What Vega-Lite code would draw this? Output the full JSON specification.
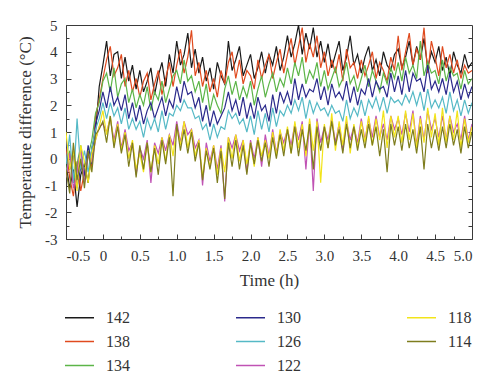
{
"$schema": "https://vega.github.io/schema/vega-lite/v6.json",
"width": 406, "height": 214,
"autosize": "none",
"padding": {"left": 66, "top": 25, "right": 28, "bottom": 146},
"config": {
  "view": {"stroke": "#3a3a3a", "strokeWidth": 1},
  "font": "Liberation Serif, Times New Roman, DejaVu Serif, serif",
  "axis": {"domain": false, "grid": false, "labelFont": "Liberation Serif, Times New Roman, DejaVu Serif, serif", "labelFontSize": 15, "labelColor": "#333", "titleFont": "Liberation Serif, Times New Roman, DejaVu Serif, serif", "titleFontSize": 17, "titleFontWeight": "normal", "titleColor": "#333", "tickColor": "#3a3a3a", "tickWidth": 1}
},
"data": {"values": [
{"t":-0.5,"s":142,"v":-0.2},{"t":-0.45,"s":142,"v":-1.1},{"t":-0.4,"s":142,"v":-0.4},{"t":-0.35,"s":142,"v":-1.8},{"t":-0.3,"s":142,"v":-0.6},{"t":-0.25,"s":142,"v":-0.2},{"t":-0.2,"s":142,"v":-0.9},{"t":-0.15,"s":142,"v":0.4},{"t":-0.1,"s":142,"v":1.0},{"t":-0.05,"s":142,"v":2.7},
{"t":0,"s":142,"v":3.5},{"t":0.05,"s":142,"v":4.4},{"t":0.1,"s":142,"v":3.1},{"t":0.15,"s":142,"v":3.9},{"t":0.2,"s":142,"v":4.0},{"t":0.25,"s":142,"v":3.0},{"t":0.3,"s":142,"v":3.8},{"t":0.35,"s":142,"v":2.9},{"t":0.4,"s":142,"v":3.5},{"t":0.45,"s":142,"v":2.6},
{"t":0.5,"s":142,"v":3.3},{"t":0.55,"s":142,"v":2.5},{"t":0.6,"s":142,"v":2.9},{"t":0.65,"s":142,"v":3.4},{"t":0.7,"s":142,"v":2.4},{"t":0.75,"s":142,"v":3.1},{"t":0.8,"s":142,"v":3.6},{"t":0.85,"s":142,"v":2.7},{"t":0.9,"s":142,"v":3.9},{"t":0.95,"s":142,"v":3.2},
{"t":1,"s":142,"v":4.4},{"t":1.05,"s":142,"v":3.5},{"t":1.1,"s":142,"v":3.9},{"t":1.15,"s":142,"v":4.7},{"t":1.2,"s":142,"v":3.4},{"t":1.25,"s":142,"v":4.1},{"t":1.3,"s":142,"v":3.2},{"t":1.35,"s":142,"v":3.8},{"t":1.4,"s":142,"v":2.9},{"t":1.45,"s":142,"v":3.4},
{"t":1.5,"s":142,"v":2.6},{"t":1.55,"s":142,"v":3.6},{"t":1.6,"s":142,"v":3.1},{"t":1.65,"s":142,"v":2.8},{"t":1.7,"s":142,"v":4.4},{"t":1.75,"s":142,"v":3.3},{"t":1.8,"s":142,"v":3.7},{"t":1.85,"s":142,"v":4.2},{"t":1.9,"s":142,"v":3.1},{"t":1.95,"s":142,"v":3.5},
{"t":2,"s":142,"v":3.9},{"t":2.05,"s":142,"v":3.0},{"t":2.1,"s":142,"v":3.4},{"t":2.15,"s":142,"v":4.0},{"t":2.2,"s":142,"v":3.2},{"t":2.25,"s":142,"v":3.9},{"t":2.3,"s":142,"v":3.5},{"t":2.35,"s":142,"v":4.2},{"t":2.4,"s":142,"v":3.3},{"t":2.45,"s":142,"v":3.8},
{"t":2.5,"s":142,"v":4.6},{"t":2.55,"s":142,"v":3.8},{"t":2.6,"s":142,"v":4.3},{"t":2.65,"s":142,"v":5.0},{"t":2.7,"s":142,"v":3.9},{"t":2.75,"s":142,"v":4.7},{"t":2.8,"s":142,"v":4.1},{"t":2.85,"s":142,"v":4.9},{"t":2.9,"s":142,"v":3.8},{"t":2.95,"s":142,"v":4.4},
{"t":3,"s":142,"v":3.6},{"t":3.05,"s":142,"v":4.3},{"t":3.1,"s":142,"v":3.4},{"t":3.15,"s":142,"v":3.9},{"t":3.2,"s":142,"v":4.4},{"t":3.25,"s":142,"v":3.3},{"t":3.3,"s":142,"v":3.8},{"t":3.35,"s":142,"v":4.6},{"t":3.4,"s":142,"v":3.5},{"t":3.45,"s":142,"v":3.9},
{"t":3.5,"s":142,"v":3.2},{"t":3.55,"s":142,"v":3.8},{"t":3.6,"s":142,"v":4.2},{"t":3.65,"s":142,"v":3.3},{"t":3.7,"s":142,"v":3.7},{"t":3.75,"s":142,"v":3.1},{"t":3.8,"s":142,"v":4.0},{"t":3.85,"s":142,"v":3.5},{"t":3.9,"s":142,"v":3.3},{"t":3.95,"s":142,"v":3.9},
{"t":4,"s":142,"v":4.1},{"t":4.05,"s":142,"v":3.4},{"t":4.1,"s":142,"v":3.8},{"t":4.15,"s":142,"v":4.4},{"t":4.2,"s":142,"v":3.5},{"t":4.25,"s":142,"v":4.2},{"t":4.3,"s":142,"v":3.7},{"t":4.35,"s":142,"v":4.5},{"t":4.4,"s":142,"v":3.4},{"t":4.45,"s":142,"v":4.0},
{"t":4.5,"s":142,"v":3.6},{"t":4.55,"s":142,"v":4.2},{"t":4.6,"s":142,"v":3.3},{"t":4.65,"s":142,"v":3.8},{"t":4.7,"s":142,"v":3.1},{"t":4.75,"s":142,"v":4.0},{"t":4.8,"s":142,"v":3.5},{"t":4.85,"s":142,"v":3.2},{"t":4.9,"s":142,"v":3.9},{"t":4.95,"s":142,"v":3.4},{"t":5,"s":142,"v":3.6},

{"t":-0.5,"s":138,"v":0.4},{"t":-0.45,"s":138,"v":-0.7},{"t":-0.4,"s":138,"v":-1.4},{"t":-0.35,"s":138,"v":-0.1},{"t":-0.3,"s":138,"v":-1.2},{"t":-0.25,"s":138,"v":-0.5},{"t":-0.2,"s":138,"v":0.2},{"t":-0.15,"s":138,"v":-0.3},{"t":-0.1,"s":138,"v":1.6},{"t":-0.05,"s":138,"v":2.2},
{"t":0,"s":138,"v":3.0},{"t":0.05,"s":138,"v":3.7},{"t":0.1,"s":138,"v":4.2},{"t":0.15,"s":138,"v":3.1},{"t":0.2,"s":138,"v":3.4},{"t":0.25,"s":138,"v":3.9},{"t":0.3,"s":138,"v":2.7},{"t":0.35,"s":138,"v":3.3},{"t":0.4,"s":138,"v":2.5},{"t":0.45,"s":138,"v":3.0},
{"t":0.5,"s":138,"v":2.3},{"t":0.55,"s":138,"v":2.9},{"t":0.6,"s":138,"v":3.2},{"t":0.65,"s":138,"v":2.2},{"t":0.7,"s":138,"v":2.8},{"t":0.75,"s":138,"v":3.3},{"t":0.8,"s":138,"v":2.4},{"t":0.85,"s":138,"v":3.0},{"t":0.9,"s":138,"v":3.6},{"t":0.95,"s":138,"v":2.7},
{"t":1,"s":138,"v":3.5},{"t":1.05,"s":138,"v":4.1},{"t":1.1,"s":138,"v":3.2},{"t":1.15,"s":138,"v":3.8},{"t":1.2,"s":138,"v":4.8},{"t":1.25,"s":138,"v":3.1},{"t":1.3,"s":138,"v":3.6},{"t":1.35,"s":138,"v":2.7},{"t":1.4,"s":138,"v":3.3},{"t":1.45,"s":138,"v":2.5},
{"t":1.5,"s":138,"v":3.0},{"t":1.55,"s":138,"v":2.3},{"t":1.6,"s":138,"v":3.3},{"t":1.65,"s":138,"v":2.8},{"t":1.7,"s":138,"v":3.6},{"t":1.75,"s":138,"v":4.0},{"t":1.8,"s":138,"v":3.0},{"t":1.85,"s":138,"v":3.7},{"t":1.9,"s":138,"v":2.8},{"t":1.95,"s":138,"v":3.3},
{"t":2,"s":138,"v":3.1},{"t":2.05,"s":138,"v":2.6},{"t":2.1,"s":138,"v":3.7},{"t":2.15,"s":138,"v":3.0},{"t":2.2,"s":138,"v":3.5},{"t":2.25,"s":138,"v":3.9},{"t":2.3,"s":138,"v":3.0},{"t":2.35,"s":138,"v":3.6},{"t":2.4,"s":138,"v":4.1},{"t":2.45,"s":138,"v":3.2},
{"t":2.5,"s":138,"v":3.9},{"t":2.55,"s":138,"v":4.5},{"t":2.6,"s":138,"v":3.5},{"t":2.65,"s":138,"v":4.2},{"t":2.7,"s":138,"v":4.9},{"t":2.75,"s":138,"v":3.6},{"t":2.8,"s":138,"v":4.3},{"t":2.85,"s":138,"v":3.8},{"t":2.9,"s":138,"v":4.6},{"t":2.95,"s":138,"v":3.4},
{"t":3,"s":138,"v":4.0},{"t":3.05,"s":138,"v":3.1},{"t":3.1,"s":138,"v":3.7},{"t":3.15,"s":138,"v":3.2},{"t":3.2,"s":138,"v":3.9},{"t":3.25,"s":138,"v":2.9},{"t":3.3,"s":138,"v":4.1},{"t":3.35,"s":138,"v":3.4},{"t":3.4,"s":138,"v":3.6},{"t":3.45,"s":138,"v":3.0},
{"t":3.5,"s":138,"v":3.7},{"t":3.55,"s":138,"v":3.1},{"t":3.6,"s":138,"v":3.5},{"t":3.65,"s":138,"v":4.0},{"t":3.7,"s":138,"v":3.0},{"t":3.75,"s":138,"v":3.6},{"t":3.8,"s":138,"v":3.3},{"t":3.85,"s":138,"v":2.9},{"t":3.9,"s":138,"v":3.8},{"t":3.95,"s":138,"v":3.3},
{"t":4,"s":138,"v":4.6},{"t":4.05,"s":138,"v":3.3},{"t":4.1,"s":138,"v":4.0},{"t":4.15,"s":138,"v":4.7},{"t":4.2,"s":138,"v":3.5},{"t":4.25,"s":138,"v":4.1},{"t":4.3,"s":138,"v":3.7},{"t":4.35,"s":138,"v":4.9},{"t":4.4,"s":138,"v":3.2},{"t":4.45,"s":138,"v":4.4},
{"t":4.5,"s":138,"v":3.8},{"t":4.55,"s":138,"v":3.1},{"t":4.6,"s":138,"v":4.2},{"t":4.65,"s":138,"v":3.4},{"t":4.7,"s":138,"v":3.9},{"t":4.75,"s":138,"v":3.2},{"t":4.8,"s":138,"v":3.7},{"t":4.85,"s":138,"v":3.0},{"t":4.9,"s":138,"v":3.5},{"t":4.95,"s":138,"v":3.2},{"t":5,"s":138,"v":3.3},

{"t":-0.5,"s":134,"v":-0.5},{"t":-0.45,"s":134,"v":0.3},{"t":-0.4,"s":134,"v":-0.9},{"t":-0.35,"s":134,"v":-0.2},{"t":-0.3,"s":134,"v":0.5},{"t":-0.25,"s":134,"v":-0.7},{"t":-0.2,"s":134,"v":0.1},{"t":-0.15,"s":134,"v":0.7},{"t":-0.1,"s":134,"v":1.7},{"t":-0.05,"s":134,"v":2.1},
{"t":0,"s":134,"v":2.9},{"t":0.05,"s":134,"v":3.2},{"t":0.1,"s":134,"v":2.5},{"t":0.15,"s":134,"v":3.4},{"t":0.2,"s":134,"v":2.3},{"t":0.25,"s":134,"v":2.8},{"t":0.3,"s":134,"v":3.0},{"t":0.35,"s":134,"v":2.1},{"t":0.4,"s":134,"v":2.6},{"t":0.45,"s":134,"v":1.9},
{"t":0.5,"s":134,"v":2.4},{"t":0.55,"s":134,"v":2.0},{"t":0.6,"s":134,"v":2.7},{"t":0.65,"s":134,"v":1.8},{"t":0.7,"s":134,"v":2.5},{"t":0.75,"s":134,"v":2.2},{"t":0.8,"s":134,"v":2.9},{"t":0.85,"s":134,"v":2.1},{"t":0.9,"s":134,"v":2.6},{"t":0.95,"s":134,"v":3.1},
{"t":1,"s":134,"v":3.3},{"t":1.05,"s":134,"v":2.8},{"t":1.1,"s":134,"v":3.7},{"t":1.15,"s":134,"v":2.9},{"t":1.2,"s":134,"v":3.1},{"t":1.25,"s":134,"v":2.5},{"t":1.3,"s":134,"v":2.9},{"t":1.35,"s":134,"v":2.1},{"t":1.4,"s":134,"v":2.8},{"t":1.45,"s":134,"v":1.8},
{"t":1.5,"s":134,"v":2.4},{"t":1.55,"s":134,"v":2.0},{"t":1.6,"s":134,"v":1.7},{"t":1.65,"s":134,"v":2.6},{"t":1.7,"s":134,"v":3.1},{"t":1.75,"s":134,"v":2.4},{"t":1.8,"s":134,"v":2.9},{"t":1.85,"s":134,"v":2.2},{"t":1.9,"s":134,"v":2.7},{"t":1.95,"s":134,"v":2.3},
{"t":2,"s":134,"v":2.9},{"t":2.05,"s":134,"v":2.0},{"t":2.1,"s":134,"v":2.6},{"t":2.15,"s":134,"v":3.1},{"t":2.2,"s":134,"v":2.3},{"t":2.25,"s":134,"v":2.8},{"t":2.3,"s":134,"v":3.2},{"t":2.35,"s":134,"v":2.5},{"t":2.4,"s":134,"v":3.0},{"t":2.45,"s":134,"v":2.7},
{"t":2.5,"s":134,"v":3.4},{"t":2.55,"s":134,"v":2.8},{"t":2.6,"s":134,"v":3.6},{"t":2.65,"s":134,"v":3.1},{"t":2.7,"s":134,"v":3.8},{"t":2.75,"s":134,"v":2.8},{"t":2.8,"s":134,"v":3.3},{"t":2.85,"s":134,"v":3.0},{"t":2.9,"s":134,"v":3.6},{"t":2.95,"s":134,"v":2.7},
{"t":3,"s":134,"v":3.3},{"t":3.05,"s":134,"v":2.6},{"t":3.1,"s":134,"v":3.0},{"t":3.15,"s":134,"v":3.4},{"t":3.2,"s":134,"v":2.7},{"t":3.25,"s":134,"v":3.0},{"t":3.3,"s":134,"v":3.6},{"t":3.35,"s":134,"v":2.8},{"t":3.4,"s":134,"v":3.1},{"t":3.45,"s":134,"v":2.5},
{"t":3.5,"s":134,"v":3.0},{"t":3.55,"s":134,"v":3.5},{"t":3.6,"s":134,"v":2.7},{"t":3.65,"s":134,"v":3.3},{"t":3.7,"s":134,"v":2.9},{"t":3.75,"s":134,"v":2.5},{"t":3.8,"s":134,"v":3.2},{"t":3.85,"s":134,"v":2.8},{"t":3.9,"s":134,"v":3.4},{"t":3.95,"s":134,"v":3.0},
{"t":4,"s":134,"v":3.6},{"t":4.05,"s":134,"v":2.9},{"t":4.1,"s":134,"v":3.8},{"t":4.15,"s":134,"v":3.2},{"t":4.2,"s":134,"v":3.5},{"t":4.25,"s":134,"v":3.0},{"t":4.3,"s":134,"v":4.4},{"t":4.35,"s":134,"v":3.1},{"t":4.4,"s":134,"v":3.6},{"t":4.45,"s":134,"v":3.2},
{"t":4.5,"s":134,"v":3.3},{"t":4.55,"s":134,"v":2.8},{"t":4.6,"s":134,"v":3.7},{"t":4.65,"s":134,"v":2.9},{"t":4.7,"s":134,"v":3.4},{"t":4.75,"s":134,"v":3.1},{"t":4.8,"s":134,"v":3.2},{"t":4.85,"s":134,"v":2.6},{"t":4.9,"s":134,"v":3.3},{"t":4.95,"s":134,"v":2.8},{"t":5,"s":134,"v":3.0},

{"t":-0.5,"s":130,"v":0.7},{"t":-0.45,"s":130,"v":-0.4},{"t":-0.4,"s":130,"v":0.2},{"t":-0.35,"s":130,"v":-1.1},{"t":-0.3,"s":130,"v":-0.3},{"t":-0.25,"s":130,"v":-0.6},{"t":-0.2,"s":130,"v":0.5},{"t":-0.15,"s":130,"v":-0.2},{"t":-0.1,"s":130,"v":1.3},{"t":-0.05,"s":130,"v":1.8},
{"t":0,"s":130,"v":2.5},{"t":0.05,"s":130,"v":1.9},{"t":0.1,"s":130,"v":2.7},{"t":0.15,"s":130,"v":2.0},{"t":0.2,"s":130,"v":2.3},{"t":0.25,"s":130,"v":1.8},{"t":0.3,"s":130,"v":2.4},{"t":0.35,"s":130,"v":1.5},{"t":0.4,"s":130,"v":2.1},{"t":0.45,"s":130,"v":1.4},
{"t":0.5,"s":130,"v":2.0},{"t":0.55,"s":130,"v":1.3},{"t":0.6,"s":130,"v":1.8},{"t":0.65,"s":130,"v":2.1},{"t":0.7,"s":130,"v":1.5},{"t":0.75,"s":130,"v":1.9},{"t":0.8,"s":130,"v":2.3},{"t":0.85,"s":130,"v":1.6},{"t":0.9,"s":130,"v":2.2},{"t":0.95,"s":130,"v":1.9},
{"t":1,"s":130,"v":2.7},{"t":1.05,"s":130,"v":2.1},{"t":1.1,"s":130,"v":2.9},{"t":1.15,"s":130,"v":2.4},{"t":1.2,"s":130,"v":2.5},{"t":1.25,"s":130,"v":1.9},{"t":1.3,"s":130,"v":2.3},{"t":1.35,"s":130,"v":1.4},{"t":1.4,"s":130,"v":2.0},{"t":1.45,"s":130,"v":1.2},
{"t":1.5,"s":130,"v":1.8},{"t":1.55,"s":130,"v":1.3},{"t":1.6,"s":130,"v":1.6},{"t":1.65,"s":130,"v":1.9},{"t":1.7,"s":130,"v":2.5},{"t":1.75,"s":130,"v":1.8},{"t":1.8,"s":130,"v":2.2},{"t":1.85,"s":130,"v":1.6},{"t":1.9,"s":130,"v":2.3},{"t":1.95,"s":130,"v":1.5},
{"t":2,"s":130,"v":2.1},{"t":2.05,"s":130,"v":1.5},{"t":2.1,"s":130,"v":2.3},{"t":2.15,"s":130,"v":1.8},{"t":2.2,"s":130,"v":2.0},{"t":2.25,"s":130,"v":1.4},{"t":2.3,"s":130,"v":2.4},{"t":2.35,"s":130,"v":1.7},{"t":2.4,"s":130,"v":2.5},{"t":2.45,"s":130,"v":2.1},
{"t":2.5,"s":130,"v":2.5},{"t":2.55,"s":130,"v":2.0},{"t":2.6,"s":130,"v":3.0},{"t":2.65,"s":130,"v":2.2},{"t":2.7,"s":130,"v":2.8},{"t":2.75,"s":130,"v":2.3},{"t":2.8,"s":130,"v":2.6},{"t":2.85,"s":130,"v":2.5},{"t":2.9,"s":130,"v":3.0},{"t":2.95,"s":130,"v":2.2},
{"t":3,"s":130,"v":2.7},{"t":3.05,"s":130,"v":2.0},{"t":3.1,"s":130,"v":2.8},{"t":3.15,"s":130,"v":2.3},{"t":3.2,"s":130,"v":2.5},{"t":3.25,"s":130,"v":2.2},{"t":3.3,"s":130,"v":2.9},{"t":3.35,"s":130,"v":2.1},{"t":3.4,"s":130,"v":2.7},{"t":3.45,"s":130,"v":2.0},
{"t":3.5,"s":130,"v":2.6},{"t":3.55,"s":130,"v":2.4},{"t":3.6,"s":130,"v":3.0},{"t":3.65,"s":130,"v":2.3},{"t":3.7,"s":130,"v":2.9},{"t":3.75,"s":130,"v":2.6},{"t":3.8,"s":130,"v":2.7},{"t":3.85,"s":130,"v":2.3},{"t":3.9,"s":130,"v":3.2},{"t":3.95,"s":130,"v":2.5},
{"t":4,"s":130,"v":3.1},{"t":4.05,"s":130,"v":2.4},{"t":4.1,"s":130,"v":3.3},{"t":4.15,"s":130,"v":2.5},{"t":4.2,"s":130,"v":3.2},{"t":4.25,"s":130,"v":2.9},{"t":4.3,"s":130,"v":3.0},{"t":4.35,"s":130,"v":2.5},{"t":4.4,"s":130,"v":3.5},{"t":4.45,"s":130,"v":2.6},
{"t":4.5,"s":130,"v":2.9},{"t":4.55,"s":130,"v":2.5},{"t":4.6,"s":130,"v":3.0},{"t":4.65,"s":130,"v":2.4},{"t":4.7,"s":130,"v":3.2},{"t":4.75,"s":130,"v":2.5},{"t":4.8,"s":130,"v":2.9},{"t":4.85,"s":130,"v":2.2},{"t":4.9,"s":130,"v":2.8},{"t":4.95,"s":130,"v":2.3},{"t":5,"s":130,"v":2.7},

{"t":-0.5,"s":126,"v":-0.2},{"t":-0.45,"s":126,"v":0.9},{"t":-0.4,"s":126,"v":-0.9},{"t":-0.35,"s":126,"v":1.5},{"t":-0.3,"s":126,"v":-0.4},{"t":-0.25,"s":126,"v":0.3},{"t":-0.2,"s":126,"v":-0.5},{"t":-0.15,"s":126,"v":0.4},{"t":-0.1,"s":126,"v":1.1},{"t":-0.05,"s":126,"v":1.5},
{"t":0,"s":126,"v":2.1},{"t":0.05,"s":126,"v":1.5},{"t":0.1,"s":126,"v":2.1},{"t":0.15,"s":126,"v":1.6},{"t":0.2,"s":126,"v":1.9},{"t":0.25,"s":126,"v":1.3},{"t":0.3,"s":126,"v":1.9},{"t":0.35,"s":126,"v":1.1},{"t":0.4,"s":126,"v":1.5},{"t":0.45,"s":126,"v":1.1},
{"t":0.5,"s":126,"v":1.4},{"t":0.55,"s":126,"v":0.8},{"t":0.6,"s":126,"v":1.5},{"t":0.65,"s":126,"v":1.1},{"t":0.7,"s":126,"v":1.5},{"t":0.75,"s":126,"v":1.0},{"t":0.8,"s":126,"v":1.8},{"t":0.85,"s":126,"v":1.1},{"t":0.9,"s":126,"v":1.7},{"t":0.95,"s":126,"v":1.6},
{"t":1,"s":126,"v":2.0},{"t":1.05,"s":126,"v":1.8},{"t":1.1,"s":126,"v":2.2},{"t":1.15,"s":126,"v":1.9},{"t":1.2,"s":126,"v":1.9},{"t":1.25,"s":126,"v":1.5},{"t":1.3,"s":126,"v":1.6},{"t":1.35,"s":126,"v":1.1},{"t":1.4,"s":126,"v":1.3},{"t":1.45,"s":126,"v":0.7},
{"t":1.5,"s":126,"v":1.3},{"t":1.55,"s":126,"v":0.8},{"t":1.6,"s":126,"v":1.2},{"t":1.65,"s":126,"v":1.1},{"t":1.7,"s":126,"v":1.8},{"t":1.75,"s":126,"v":1.5},{"t":1.8,"s":126,"v":1.7},{"t":1.85,"s":126,"v":1.3},{"t":1.9,"s":126,"v":1.5},{"t":1.95,"s":126,"v":1.0},
{"t":2,"s":126,"v":1.6},{"t":2.05,"s":126,"v":0.9},{"t":2.1,"s":126,"v":1.8},{"t":2.15,"s":126,"v":1.1},{"t":2.2,"s":126,"v":1.7},{"t":2.25,"s":126,"v":1.0},{"t":2.3,"s":126,"v":1.9},{"t":2.35,"s":126,"v":1.2},{"t":2.4,"s":126,"v":1.8},{"t":2.45,"s":126,"v":1.6},
{"t":2.5,"s":126,"v":2.0},{"t":2.55,"s":126,"v":1.7},{"t":2.6,"s":126,"v":2.2},{"t":2.65,"s":126,"v":1.8},{"t":2.7,"s":126,"v":2.3},{"t":2.75,"s":126,"v":1.5},{"t":2.8,"s":126,"v":2.2},{"t":2.85,"s":126,"v":1.7},{"t":2.9,"s":126,"v":2.1},{"t":2.95,"s":126,"v":1.8},
{"t":3,"s":126,"v":1.9},{"t":3.05,"s":126,"v":1.6},{"t":3.1,"s":126,"v":2.0},{"t":3.15,"s":126,"v":1.7},{"t":3.2,"s":126,"v":1.8},{"t":3.25,"s":126,"v":1.4},{"t":3.3,"s":126,"v":2.2},{"t":3.35,"s":126,"v":1.5},{"t":3.4,"s":126,"v":1.9},{"t":3.45,"s":126,"v":1.6},
{"t":3.5,"s":126,"v":2.2},{"t":3.55,"s":126,"v":1.6},{"t":3.6,"s":126,"v":2.2},{"t":3.65,"s":126,"v":1.9},{"t":3.7,"s":126,"v":2.3},{"t":3.75,"s":126,"v":1.8},{"t":3.8,"s":126,"v":2.3},{"t":3.85,"s":126,"v":1.7},{"t":3.9,"s":126,"v":2.3},{"t":3.95,"s":126,"v":2.1},
{"t":4,"s":126,"v":2.2},{"t":4.05,"s":126,"v":2.0},{"t":4.1,"s":126,"v":2.4},{"t":4.15,"s":126,"v":2.1},{"t":4.2,"s":126,"v":2.5},{"t":4.25,"s":126,"v":2.0},{"t":4.3,"s":126,"v":2.5},{"t":4.35,"s":126,"v":1.8},{"t":4.4,"s":126,"v":2.6},{"t":4.45,"s":126,"v":1.9},
{"t":4.5,"s":126,"v":2.2},{"t":4.55,"s":126,"v":1.9},{"t":4.6,"s":126,"v":2.3},{"t":4.65,"s":126,"v":1.7},{"t":4.7,"s":126,"v":2.5},{"t":4.75,"s":126,"v":1.8},{"t":4.8,"s":126,"v":2.2},{"t":4.85,"s":126,"v":1.6},{"t":4.9,"s":126,"v":2.2},{"t":4.95,"s":126,"v":1.7},{"t":5,"s":126,"v":2.1},

{"t":-0.5,"s":122,"v":-0.7},{"t":-0.45,"s":122,"v":0.2},{"t":-0.4,"s":122,"v":-1.1},{"t":-0.35,"s":122,"v":-0.5},{"t":-0.3,"s":122,"v":0.4},{"t":-0.25,"s":122,"v":-0.9},{"t":-0.2,"s":122,"v":0.1},{"t":-0.15,"s":122,"v":-0.1},{"t":-0.1,"s":122,"v":0.7},{"t":-0.05,"s":122,"v":1.2},
{"t":0,"s":122,"v":1.3},{"t":0.05,"s":122,"v":1.0},{"t":0.1,"s":122,"v":1.5},{"t":0.15,"s":122,"v":0.7},{"t":0.2,"s":122,"v":1.4},{"t":0.25,"s":122,"v":0.4},{"t":0.3,"s":122,"v":1.1},{"t":0.35,"s":122,"v":0.3},{"t":0.4,"s":122,"v":0.6},{"t":0.45,"s":122,"v":-0.6},
{"t":0.5,"s":122,"v":0.4},{"t":0.55,"s":122,"v":0.0},{"t":0.6,"s":122,"v":0.7},{"t":0.65,"s":122,"v":-0.9},{"t":0.7,"s":122,"v":0.6},{"t":0.75,"s":122,"v":0.2},{"t":0.8,"s":122,"v":0.8},{"t":0.85,"s":122,"v":0.3},{"t":0.9,"s":122,"v":0.9},{"t":0.95,"s":122,"v":0.5},
{"t":1,"s":122,"v":1.4},{"t":1.05,"s":122,"v":0.6},{"t":1.1,"s":122,"v":1.4},{"t":1.15,"s":122,"v":0.9},{"t":1.2,"s":122,"v":1.1},{"t":1.25,"s":122,"v":0.4},{"t":1.3,"s":122,"v":0.7},{"t":1.35,"s":122,"v":-1.0},{"t":1.4,"s":122,"v":0.6},{"t":1.45,"s":122,"v":-0.1},
{"t":1.5,"s":122,"v":0.5},{"t":1.55,"s":122,"v":-0.4},{"t":1.6,"s":122,"v":0.5},{"t":1.65,"s":122,"v":-1.6},{"t":1.7,"s":122,"v":0.8},{"t":1.75,"s":122,"v":0.4},{"t":1.8,"s":122,"v":0.9},{"t":1.85,"s":122,"v":0.3},{"t":1.9,"s":122,"v":0.7},{"t":1.95,"s":122,"v":-0.5},
{"t":2,"s":122,"v":0.7},{"t":2.05,"s":122,"v":0.0},{"t":2.1,"s":122,"v":0.8},{"t":2.15,"s":122,"v":-0.3},{"t":2.2,"s":122,"v":0.9},{"t":2.25,"s":122,"v":0.1},{"t":2.3,"s":122,"v":1.1},{"t":2.35,"s":122,"v":0.2},{"t":2.4,"s":122,"v":1.0},{"t":2.45,"s":122,"v":0.6},
{"t":2.5,"s":122,"v":1.1},{"t":2.55,"s":122,"v":0.5},{"t":2.6,"s":122,"v":1.3},{"t":2.65,"s":122,"v":0.7},{"t":2.7,"s":122,"v":1.4},{"t":2.75,"s":122,"v":-0.4},{"t":2.8,"s":122,"v":1.4},{"t":2.85,"s":122,"v":-1.2},{"t":2.9,"s":122,"v":1.5},{"t":2.95,"s":122,"v":0.6},
{"t":3,"s":122,"v":1.2},{"t":3.05,"s":122,"v":0.7},{"t":3.1,"s":122,"v":1.5},{"t":3.15,"s":122,"v":0.6},{"t":3.2,"s":122,"v":1.3},{"t":3.25,"s":122,"v":0.3},{"t":3.3,"s":122,"v":1.4},{"t":3.35,"s":122,"v":0.7},{"t":3.4,"s":122,"v":1.2},{"t":3.45,"s":122,"v":0.6},
{"t":3.5,"s":122,"v":1.5},{"t":3.55,"s":122,"v":0.7},{"t":3.6,"s":122,"v":1.5},{"t":3.65,"s":122,"v":0.8},{"t":3.7,"s":122,"v":1.6},{"t":3.75,"s":122,"v":0.8},{"t":3.8,"s":122,"v":1.3},{"t":3.85,"s":122,"v":0.7},{"t":3.9,"s":122,"v":1.6},{"t":3.95,"s":122,"v":1.1},
{"t":4,"s":122,"v":1.5},{"t":4.05,"s":122,"v":0.9},{"t":4.1,"s":122,"v":1.7},{"t":4.15,"s":122,"v":1.0},{"t":4.2,"s":122,"v":1.8},{"t":4.25,"s":122,"v":0.5},{"t":4.3,"s":122,"v":1.6},{"t":4.35,"s":122,"v":0.7},{"t":4.4,"s":122,"v":1.8},{"t":4.45,"s":122,"v":1.1},
{"t":4.5,"s":122,"v":1.5},{"t":4.55,"s":122,"v":0.8},{"t":4.6,"s":122,"v":1.6},{"t":4.65,"s":122,"v":0.7},{"t":4.7,"s":122,"v":1.6},{"t":4.75,"s":122,"v":1.0},{"t":4.8,"s":122,"v":1.3},{"t":4.85,"s":122,"v":0.7},{"t":4.9,"s":122,"v":1.6},{"t":4.95,"s":122,"v":0.7},{"t":5,"s":122,"v":1.3},

{"t":-0.5,"s":118,"v":1.0},{"t":-0.45,"s":118,"v":-0.4},{"t":-0.4,"s":118,"v":0.3},{"t":-0.35,"s":118,"v":-1.2},{"t":-0.3,"s":118,"v":0.5},{"t":-0.25,"s":118,"v":-0.1},{"t":-0.2,"s":118,"v":-0.9},{"t":-0.15,"s":118,"v":0.2},{"t":-0.1,"s":118,"v":0.7},{"t":-0.05,"s":118,"v":1.2},
{"t":0,"s":118,"v":1.8},{"t":0.05,"s":118,"v":0.9},{"t":0.1,"s":118,"v":1.6},{"t":0.15,"s":118,"v":0.5},{"t":0.2,"s":118,"v":1.3},{"t":0.25,"s":118,"v":0.3},{"t":0.3,"s":118,"v":1.0},{"t":0.35,"s":118,"v":0.0},{"t":0.4,"s":118,"v":0.7},{"t":0.45,"s":118,"v":-0.4},
{"t":0.5,"s":118,"v":0.2},{"t":0.55,"s":118,"v":-0.5},{"t":0.6,"s":118,"v":0.6},{"t":0.65,"s":118,"v":-0.5},{"t":0.7,"s":118,"v":0.5},{"t":0.75,"s":118,"v":-0.2},{"t":0.8,"s":118,"v":0.8},{"t":0.85,"s":118,"v":-0.1},{"t":0.9,"s":118,"v":0.9},{"t":0.95,"s":118,"v":0.1},
{"t":1,"s":118,"v":1.2},{"t":1.05,"s":118,"v":0.5},{"t":1.1,"s":118,"v":1.4},{"t":1.15,"s":118,"v":0.4},{"t":1.2,"s":118,"v":1.1},{"t":1.25,"s":118,"v":0.1},{"t":1.3,"s":118,"v":0.7},{"t":1.35,"s":118,"v":-0.7},{"t":1.4,"s":118,"v":0.4},{"t":1.45,"s":118,"v":-0.3},
{"t":1.5,"s":118,"v":0.5},{"t":1.55,"s":118,"v":-0.6},{"t":1.6,"s":118,"v":0.4},{"t":1.65,"s":118,"v":-0.5},{"t":1.7,"s":118,"v":0.8},{"t":1.75,"s":118,"v":0.0},{"t":1.8,"s":118,"v":0.9},{"t":1.85,"s":118,"v":-0.1},{"t":1.9,"s":118,"v":0.7},{"t":1.95,"s":118,"v":-0.2},
{"t":2,"s":118,"v":0.6},{"t":2.05,"s":118,"v":-0.3},{"t":2.1,"s":118,"v":0.8},{"t":2.15,"s":118,"v":0.1},{"t":2.2,"s":118,"v":0.7},{"t":2.25,"s":118,"v":0.0},{"t":2.3,"s":118,"v":1.0},{"t":2.35,"s":118,"v":0.1},{"t":2.4,"s":118,"v":1.1},{"t":2.45,"s":118,"v":0.3},
{"t":2.5,"s":118,"v":1.2},{"t":2.55,"s":118,"v":0.2},{"t":2.6,"s":118,"v":1.4},{"t":2.65,"s":118,"v":0.4},{"t":2.7,"s":118,"v":1.3},{"t":2.75,"s":118,"v":0.1},{"t":2.8,"s":118,"v":1.5},{"t":2.85,"s":118,"v":0.3},{"t":2.9,"s":118,"v":1.4},{"t":2.95,"s":118,"v":-0.9},
{"t":3,"s":118,"v":1.3},{"t":3.05,"s":118,"v":0.4},{"t":3.1,"s":118,"v":1.7},{"t":3.15,"s":118,"v":0.3},{"t":3.2,"s":118,"v":1.4},{"t":3.25,"s":118,"v":0.5},{"t":3.3,"s":118,"v":1.6},{"t":3.35,"s":118,"v":0.2},{"t":3.4,"s":118,"v":1.3},{"t":3.45,"s":118,"v":0.4},
{"t":3.5,"s":118,"v":1.4},{"t":3.55,"s":118,"v":0.6},{"t":3.6,"s":118,"v":1.6},{"t":3.65,"s":118,"v":0.5},{"t":3.7,"s":118,"v":1.5},{"t":3.75,"s":118,"v":0.7},{"t":3.8,"s":118,"v":1.8},{"t":3.85,"s":118,"v":0.4},{"t":3.9,"s":118,"v":1.6},{"t":3.95,"s":118,"v":0.8},
{"t":4,"s":118,"v":1.6},{"t":4.05,"s":118,"v":0.6},{"t":4.1,"s":118,"v":1.8},{"t":4.15,"s":118,"v":0.7},{"t":4.2,"s":118,"v":1.7},{"t":4.25,"s":118,"v":0.4},{"t":4.3,"s":118,"v":1.5},{"t":4.35,"s":118,"v":0.6},{"t":4.4,"s":118,"v":1.9},{"t":4.45,"s":118,"v":0.8},
{"t":4.5,"s":118,"v":1.7},{"t":4.55,"s":118,"v":0.5},{"t":4.6,"s":118,"v":1.9},{"t":4.65,"s":118,"v":0.6},{"t":4.7,"s":118,"v":1.6},{"t":4.75,"s":118,"v":0.7},{"t":4.8,"s":118,"v":1.8},{"t":4.85,"s":118,"v":0.4},{"t":4.9,"s":118,"v":1.5},{"t":4.95,"s":118,"v":0.6},{"t":5,"s":118,"v":1.2},

{"t":-0.5,"s":114,"v":-0.4},{"t":-0.45,"s":114,"v":-1.3},{"t":-0.4,"s":114,"v":0.6},{"t":-0.35,"s":114,"v":-0.8},{"t":-0.3,"s":114,"v":0.0},{"t":-0.25,"s":114,"v":-1.1},{"t":-0.2,"s":114,"v":0.3},{"t":-0.15,"s":114,"v":-0.5},{"t":-0.1,"s":114,"v":0.9},{"t":-0.05,"s":114,"v":1.1},
{"t":0,"s":114,"v":1.4},{"t":0.05,"s":114,"v":0.6},{"t":0.1,"s":114,"v":1.6},{"t":0.15,"s":114,"v":0.4},{"t":0.2,"s":114,"v":1.2},{"t":0.25,"s":114,"v":0.2},{"t":0.3,"s":114,"v":0.9},{"t":0.35,"s":114,"v":-0.3},{"t":0.4,"s":114,"v":0.6},{"t":0.45,"s":114,"v":-0.7},
{"t":0.5,"s":114,"v":0.5},{"t":0.55,"s":114,"v":-0.4},{"t":0.6,"s":114,"v":0.6},{"t":0.65,"s":114,"v":-0.5},{"t":0.7,"s":114,"v":0.4},{"t":0.75,"s":114,"v":-0.6},{"t":0.8,"s":114,"v":0.7},{"t":0.85,"s":114,"v":-0.2},{"t":0.9,"s":114,"v":0.8},{"t":0.95,"s":114,"v":-1.4},
{"t":1,"s":114,"v":1.3},{"t":1.05,"s":114,"v":0.3},{"t":1.1,"s":114,"v":1.1},{"t":1.15,"s":114,"v":0.2},{"t":1.2,"s":114,"v":1.0},{"t":1.25,"s":114,"v":-0.1},{"t":1.3,"s":114,"v":0.6},{"t":1.35,"s":114,"v":-0.8},{"t":1.4,"s":114,"v":0.3},{"t":1.45,"s":114,"v":-0.4},
{"t":1.5,"s":114,"v":0.4},{"t":1.55,"s":114,"v":-0.9},{"t":1.6,"s":114,"v":0.3},{"t":1.65,"s":114,"v":-1.5},{"t":1.7,"s":114,"v":0.6},{"t":1.75,"s":114,"v":-0.3},{"t":1.8,"s":114,"v":0.7},{"t":1.85,"s":114,"v":-0.4},{"t":1.9,"s":114,"v":0.5},{"t":1.95,"s":114,"v":-0.6},
{"t":2,"s":114,"v":0.6},{"t":2.05,"s":114,"v":-0.2},{"t":2.1,"s":114,"v":0.7},{"t":2.15,"s":114,"v":-0.1},{"t":2.2,"s":114,"v":0.6},{"t":2.25,"s":114,"v":-0.3},{"t":2.3,"s":114,"v":0.8},{"t":2.35,"s":114,"v":0.0},{"t":2.4,"s":114,"v":0.9},{"t":2.45,"s":114,"v":0.1},
{"t":2.5,"s":114,"v":1.1},{"t":2.55,"s":114,"v":0.2},{"t":2.6,"s":114,"v":1.2},{"t":2.65,"s":114,"v":0.1},{"t":2.7,"s":114,"v":1.1},{"t":2.75,"s":114,"v":0.3},{"t":2.8,"s":114,"v":1.3},{"t":2.85,"s":114,"v":-0.4},{"t":2.9,"s":114,"v":1.2},{"t":2.95,"s":114,"v":0.3},
{"t":3,"s":114,"v":1.2},{"t":3.05,"s":114,"v":0.4},{"t":3.1,"s":114,"v":1.4},{"t":3.15,"s":114,"v":0.5},{"t":3.2,"s":114,"v":1.1},{"t":3.25,"s":114,"v":0.2},{"t":3.3,"s":114,"v":1.3},{"t":3.35,"s":114,"v":0.4},{"t":3.4,"s":114,"v":1.2},{"t":3.45,"s":114,"v":0.3},
{"t":3.5,"s":114,"v":1.1},{"t":3.55,"s":114,"v":0.4},{"t":3.6,"s":114,"v":1.3},{"t":3.65,"s":114,"v":0.5},{"t":3.7,"s":114,"v":1.2},{"t":3.75,"s":114,"v":0.1},{"t":3.8,"s":114,"v":1.1},{"t":3.85,"s":114,"v":-0.5},{"t":3.9,"s":114,"v":1.3},{"t":3.95,"s":114,"v":0.5},
{"t":4,"s":114,"v":1.2},{"t":4.05,"s":114,"v":0.3},{"t":4.1,"s":114,"v":1.3},{"t":4.15,"s":114,"v":0.4},{"t":4.2,"s":114,"v":1.1},{"t":4.25,"s":114,"v":0.2},{"t":4.3,"s":114,"v":1.2},{"t":4.35,"s":114,"v":-0.4},{"t":4.4,"s":114,"v":1.3},{"t":4.45,"s":114,"v":0.4},
{"t":4.5,"s":114,"v":1.1},{"t":4.55,"s":114,"v":0.3},{"t":4.6,"s":114,"v":1.2},{"t":4.65,"s":114,"v":0.4},{"t":4.7,"s":114,"v":1.3},{"t":4.75,"s":114,"v":0.5},{"t":4.8,"s":114,"v":1.1},{"t":4.85,"s":114,"v":0.2},{"t":4.9,"s":114,"v":1.2},{"t":4.95,"s":114,"v":0.4},{"t":5,"s":114,"v":1.0}
]},
"layer": [
  {
    "mark": {"type": "line", "strokeWidth": 1.2, "clip": true},
    "encoding": {
      "x": {"field": "t", "type": "quantitative", "scale": {"domain": [-0.5, 5], "nice": false, "zero": false},
        "axis": {"values": [-0.5, 0, 0.5, 1, 1.5, 2, 2.5, 3, 3.5, 4, 4.5, 5], "tickSize": -5, "labelPadding": 14,
          "labelExpr": "datum.value == 0 ? '0' : (datum.value < 0 ? '-' : '') + format(abs(datum.value), '.1f')",
          "title": "Time (h)", "titlePadding": 9}},
      "y": {"field": "v", "type": "quantitative", "scale": {"domain": [-3, 5], "nice": false, "zero": false},
        "axis": {"values": [-3, -2, -1, 0, 1, 2, 3, 4, 5], "tickSize": -5, "labelPadding": 14,
          "labelExpr": "(datum.value < 0 ? '-' : '') + abs(datum.value)",
          "title": "Temperature difference (°C)", "titlePadding": 10}},
      "color": {"field": "s", "type": "nominal",
        "scale": {"domain": [142, 138, 134, 130, 126, 122, 118, 114],
                  "range": ["#1a1a1a", "#e04a1e", "#5cb548", "#2b2a8c", "#55b9c6", "#c052b4", "#f2e41a", "#7e7d1e"]},
        "legend": {"orient": "none", "legendX": -2, "legendY": 277, "columns": 3, "columnPadding": 103, "rowPadding": -1.5,
          "symbolType": "stroke", "symbolSize": 841, "symbolStrokeWidth": 1.5, "labelFont": "Liberation Serif, Times New Roman, DejaVu Serif, serif",
          "labelFontSize": 16, "labelColor": "#333", "labelOffset": 11, "title": null}}
    }
  },
  {
    "data": {"values": [{"t": 0, "v": 0}]},
    "mark": {"type": "point", "opacity": 0},
    "encoding": {
      "x": {"field": "t", "type": "quantitative",
        "axis": {"values": [-0.25, 0.25, 0.75, 1.25, 1.75, 2.25, 2.75, 3.25, 3.75, 4.25, 4.75], "tickSize": -3, "labels": false, "title": null, "orient": "bottom"}},
      "y": {"field": "v", "type": "quantitative",
        "axis": {"values": [-2.5, -1.5, -0.5, 0.5, 1.5, 2.5, 3.5, 4.5], "tickSize": -3, "labels": false, "title": null, "orient": "left"}}
    }
  },
  {
    "data": {"values": [{"t": 0, "v": 0}]},
    "mark": {"type": "point", "opacity": 0},
    "encoding": {
      "x": {"field": "t", "type": "quantitative", "axis": null},
      "y": {"field": "v", "type": "quantitative",
        "axis": {"values": [-2.5, -2, -1.5, -1, -0.5, 0, 0.5, 1, 1.5, 2, 2.5, 3, 3.5, 4, 4.5], "tickSize": -4, "labels": false, "title": null, "orient": "right"}}
    }
  }
],
"resolve": {"axis": {"x": "independent", "y": "independent"}}
}
